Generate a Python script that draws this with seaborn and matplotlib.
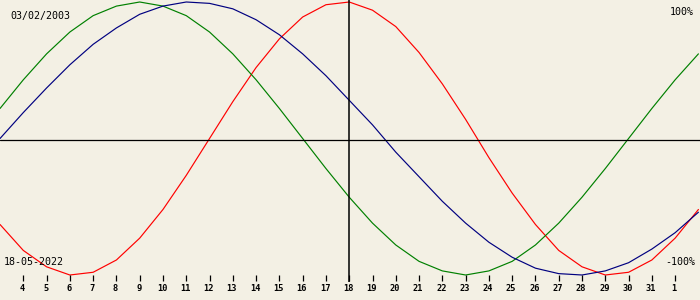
import matplotlib
matplotlib.use("Agg")
import matplotlib.pyplot as plt
import seaborn as sns
import pandas as pd
import numpy as np

# Day labels shown along the bottom (plus one extra day on each side, off the tick row)
day_labels = [3, 4, 5, 6, 7, 8, 9, 10, 11, 12, 13, 14, 15, 16, 17, 18, 19, 20,
              21, 22, 23, 24, 25, 26, 27, 28, 29, 30, 31, 1, 2]
# Values in percent, read per day
physical = [-63, -82, -94, -100, -98, -89, -73, -52, -27, 0, 27, 52, 73, 89, 98, 100,
            94, 82, 63, 40, 14, -14, -40, -63, -82, -94, -100, -98, -89, -73, -52]
emotional = [22, 43, 62, 78, 90, 97, 100, 97, 90, 78, 62, 43, 22, 0, -22, -43,
             -62, -78, -90, -97, -100, -97, -90, -78, -62, -43, -22, 0, 22, 43, 62]
intellectual = [0, 19, 37, 54, 69, 81, 91, 97, 100, 99, 95, 87, 76, 62, 46, 28,
                10, -10, -28, -46, -62, -76, -87, -95, -99, -100, -97, -91, -81, -69, -54]
series_names = ["physical", "emotional", "intellectual"]
series_colors = ["#FF0000", "#008000", "#000080"]
birth_label = "03/02/2003"
date_label = "18-05-2022"
today_day = 18
top_label = "100%"
bottom_label = "-100%"

bg = "#F3F0E4"
sns.set_theme(style="white")
plt.rcParams['font.family'] = ['DejaVu Sans Mono', 'DejaVu Sans']

pos = list(range(-1, len(day_labels) - 1))  # day 4 -> 0
df = pd.DataFrame({
    "pos": pos * 3,
    "value": physical + emotional + intellectual,
    "series": sum([[n] * len(day_labels) for n in series_names], []),
})

fig = plt.figure(figsize=(7, 3), dpi=100, facecolor=bg)
ax = fig.add_axes([0, 0, 1, 1])
ax.set_facecolor(bg)

# pixel mapping: x = 23.3 + 23.28*i ; y = 138.5 - v*1.365
xpx0, xstep = 23.3, 23.28
ax.set_xlim((0 - xpx0) / xstep, (700 - xpx0) / xstep)
ycen, yamp = 138.5, 1.365
ax.set_ylim((ycen - 300) / yamp, (ycen - 0) / yamp)

sns.lineplot(data=df, x="pos", y="value", hue="series", palette=dict(zip(series_names, series_colors)),
             hue_order=series_names, linewidth=0.85, legend=False, ax=ax, sort=False)

# axis cross
ax.axhline((ycen - 140) / yamp, color="black", linewidth=0.9)
today_pos = pos[day_labels.index(today_day)]
ax.vlines(today_pos, (ycen - 282) / yamp, 110, color="black", linewidth=1.1)

# tick row
tick_pos = pos[1:-1]
tick_lab = day_labels[1:-1]
ax.vlines(tick_pos, (ycen - 281) / yamp, (ycen - 275) / yamp, color="black", linewidth=0.9)
for p, lab in zip(tick_pos, tick_lab):
    ax.text(p - 0.04, (ycen - 288.5) / yamp, str(lab), ha="center", va="center",
            fontsize=6.2, fontweight="bold", color="black")

ax.text(10 / 700, 1 - 16 / 300, birth_label, transform=ax.transAxes, ha="left", va="center",
        fontsize=7.2, color="black")
ax.text(694 / 700, 1 - 12 / 300, top_label, transform=ax.transAxes, ha="right", va="center",
        fontsize=7.2, color="black")
ax.text(4 / 700, 1 - 262 / 300, date_label, transform=ax.transAxes, ha="left", va="center",
        fontsize=7.2, color="black")
ax.text(695 / 700, 1 - 262 / 300, bottom_label, transform=ax.transAxes, ha="right", va="center",
        fontsize=7.2, color="black")

ax.set_axis_off()
fig.savefig("out.png", dpi=100, facecolor=bg)
